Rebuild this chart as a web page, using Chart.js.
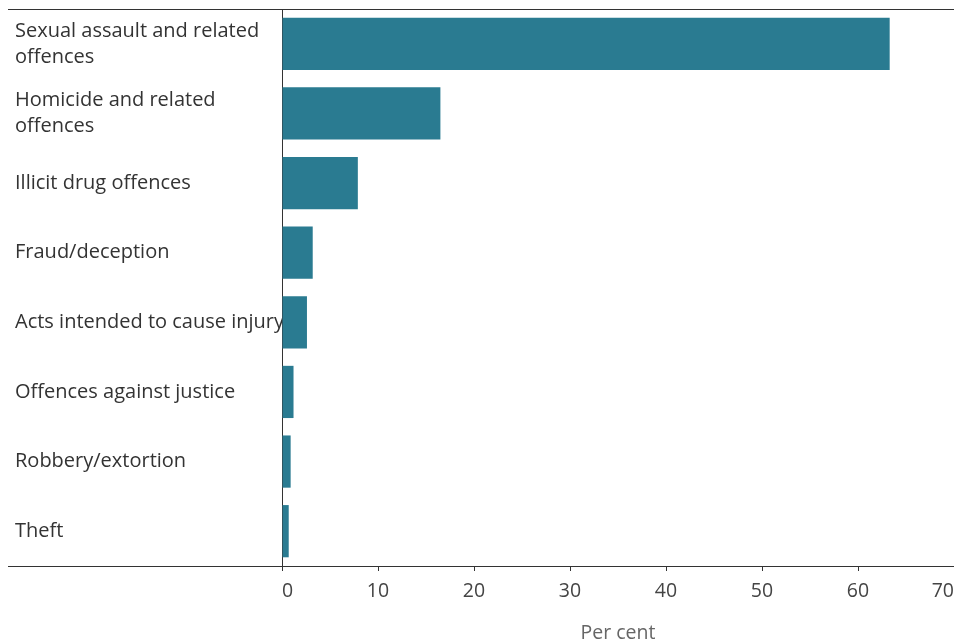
<!DOCTYPE html>
<html>
<head>
<meta charset="utf-8">
<script src="https://cdn.jsdelivr.net/npm/chart.js@4"></script>
<style>
  html, body { margin:0; padding:0; background:#fff; }
  #wrap { width:954px; height:641px; }
</style>
</head>
<body>
<div id="wrap"><canvas id="chart" width="954" height="641"></canvas></div>
<script>
const categories = [
  ['Sexual assault and related', 'offences'],
  ['Homicide and related', 'offences'],
  'Illicit drug offences',
  'Fraud/deception',
  'Acts intended to cause injury',
  'Offences against justice',
  'Robbery/extortion',
  'Theft'
];
const perCent = [63.3, 16.5, 7.9, 3.2, 2.6, 1.2, 0.9, 0.7];
const xTicks = [0, 10, 20, 30, 40, 50, 60, 70];

const font = "'Open Sans', sans-serif";

// top rule and full-width bottom rule
const rules = {
  id: 'rules',
  afterDraw(chart){
    const {ctx, chartArea} = chart;
    ctx.save();
    ctx.strokeStyle = '#333';
    ctx.lineWidth = 1;
    ctx.beginPath();
    ctx.moveTo(8, chartArea.top + 0.5);
    ctx.lineTo(chart.width, chartArea.top + 0.5);
    ctx.moveTo(8, chartArea.bottom + 0.5);
    ctx.lineTo(chart.width, chartArea.bottom + 0.5);
    ctx.stroke();
    ctx.restore();
  }
};

new Chart(document.getElementById('chart'), {
  type: 'bar',
  data: {
    labels: categories,
    datasets: [{ data: perCent, backgroundColor: '#2a7b91', barPercentage: 0.75, categoryPercentage: 1 }]
  },
  options: {
    indexAxis: 'y',
    responsive: false,
    animation: false,
    layout: { padding: { left: 15, top: 9, right: 0, bottom: 0 } },
    plugins: { legend: { display: false }, tooltip: { enabled: false } },
    scales: {
      x: {
        min: 0, max: 70,
        afterBuildTicks: (s) => { s.ticks = xTicks.map(v => ({ value: v })); },
        afterFit: (s) => { s.paddingLeft = 0; s.paddingRight = 0; s.height = 75; },
        grid: { display: true, drawOnChartArea: false, drawTicks: true, tickLength: 5, color: '#333' },
        border: { display: true, color: '#333' },
        ticks: { align: 'inner', padding: 9, color: '#444', font: { family: font, size: 19.5 } },
        title: { display: true, text: 'Per cent', color: '#666', font: { family: font, size: 19.5, lineHeight: 1 }, padding: { top: 20, bottom: -2 } }
      },
      y: {
        afterFit: (s) => { s.width = 267; s.paddingTop = 0; s.paddingBottom = 0; },
        grid: { display: false },
        border: { display: true, color: '#333' },
        ticks: { crossAlign: 'far', color: '#333', font: { family: font, size: 20, lineHeight: 1.3 } }
      }
    }
  },
  plugins: [rules]
});
</script>
</body>
</html>
